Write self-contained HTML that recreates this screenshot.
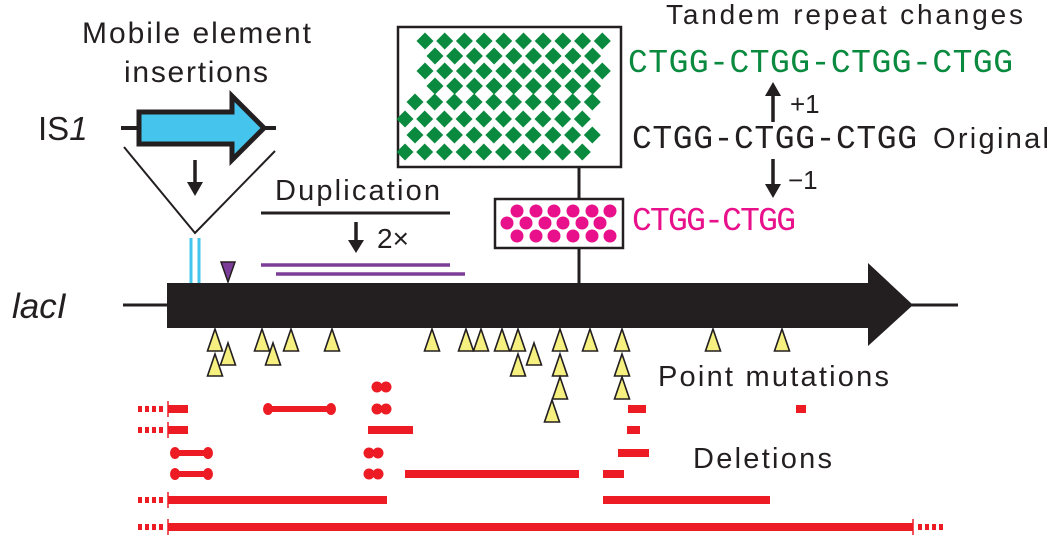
<!DOCTYPE html>
<html><head><meta charset="utf-8"><style>
html,body{margin:0;padding:0;background:#fff;width:1050px;height:536px;overflow:hidden}
text{font-family:"Liberation Sans",sans-serif;fill:#231f20}
.m{font-family:"Liberation Mono",monospace;font-size:33px}
</style></head><body>
<svg width="1050" height="536" viewBox="0 0 1050 536" xmlns="http://www.w3.org/2000/svg">
<defs>
<marker id="ah" markerWidth="4" markerHeight="4" refX="2" refY="2" orient="auto" markerUnits="strokeWidth"><path d="M0,0 L4,2 L0,4 z" fill="#231f20"/></marker>
</defs>
<!-- text top-left -->
<text x="82" y="43" font-size="30" textLength="229">Mobile element</text>
<text x="124" y="82" font-size="30" textLength="144">insertions</text>
<text x="38" y="140" font-size="33">IS<tspan font-style="italic">1</tspan></text>
<!-- IS1 element -->
<line x1="121" y1="128" x2="276" y2="128" stroke="#231f20" stroke-width="4"/>
<path d="M139,112 L232,112 L232,96 L264,128 L232,160 L232,144 L139,144 Z" fill="#45c4ee" stroke="#231f20" stroke-width="5" stroke-linejoin="miter"/>
<polyline points="124,147 195,233 275,151" fill="none" stroke="#231f20" stroke-width="2"/>
<line x1="195" y1="160" x2="195" y2="185" stroke="#231f20" stroke-width="3.5"/>
<path d="M187,182 L203,182 L195,196 Z" fill="#231f20"/>
<line x1="191" y1="238" x2="191" y2="283" stroke="#45c4ee" stroke-width="3"/>
<line x1="199" y1="238" x2="199" y2="283" stroke="#45c4ee" stroke-width="3"/>
<path d="M221,262 L235,262 L228,282 Z" fill="#7b3d97" stroke="#231f20" stroke-width="1.5"/>
<!-- duplication -->
<text x="275" y="200" font-size="29" textLength="165">Duplication</text>
<line x1="261" y1="213" x2="450" y2="213" stroke="#231f20" stroke-width="3"/>
<line x1="356" y1="222" x2="356" y2="242" stroke="#231f20" stroke-width="3.5"/>
<path d="M348,240 L364,240 L356,253 Z" fill="#231f20"/>
<text x="377" y="248" font-size="28">2×</text>
<line x1="261" y1="265" x2="450" y2="265" stroke="#7b3d97" stroke-width="3.5"/>
<line x1="276" y1="274" x2="465" y2="274" stroke="#7b3d97" stroke-width="3.5"/>
<!-- lacI -->
<text x="12" y="318" font-size="35" font-style="italic">lacI</text>
<line x1="123" y1="305" x2="958" y2="305" stroke="#231f20" stroke-width="3"/>
<path d="M167,283 L868,283 L868,263 L913,305 L868,346 L868,328 L167,328 Z" fill="#231f20"/>
<!-- boxes -->
<line x1="579" y1="167" x2="579" y2="284" stroke="#231f20" stroke-width="3"/>
<rect x="398" y="27" width="223" height="140" fill="#fff" stroke="#231f20" stroke-width="2.5"/>
<g fill="#0a8a3e" id="dia"></g>
<rect x="495" y="199" width="128" height="49" fill="#fff" stroke="#231f20" stroke-width="2.5"/>
<g fill="#e8118b">
<circle cx="517" cy="211" r="6.5"/><circle cx="536" cy="211" r="6.5"/><circle cx="554" cy="211" r="6.5"/><circle cx="573" cy="211" r="6.5"/><circle cx="592" cy="211" r="6.5"/><circle cx="610" cy="211" r="6.5"/>
<circle cx="507" cy="223" r="6.5"/><circle cx="526" cy="223" r="6.5"/><circle cx="545" cy="223" r="6.5"/><circle cx="563" cy="223" r="6.5"/><circle cx="582" cy="223" r="6.5"/><circle cx="600" cy="223" r="6.5"/>
<circle cx="517" cy="236" r="6.5"/><circle cx="536" cy="236" r="6.5"/><circle cx="554" cy="236" r="6.5"/><circle cx="573" cy="236" r="6.5"/><circle cx="592" cy="236" r="6.5"/><circle cx="610" cy="236" r="6.5"/>
</g>
<!-- tandem repeat text -->
<text x="666" y="24" font-size="28" textLength="357">Tandem repeat changes</text>
<text x="628" y="72" class="m" fill="#0a8a3e" style="fill:#0a8a3e" textLength="385">CTGG-CTGG-CTGG-CTGG</text>
<text x="632" y="148" class="m" textLength="285">CTGG-CTGG-CTGG</text>
<text x="933" y="148" font-size="29" textLength="116">Original</text>
<text x="632" y="230" class="m" style="fill:#e8118b" textLength="164">CTGG-CTGG</text>
<line x1="773" y1="122" x2="773" y2="94" stroke="#231f20" stroke-width="3.5"/>
<path d="M765,96 L781,96 L773,82 Z" fill="#231f20"/>
<text x="790" y="113" font-size="26">+1</text>
<line x1="773" y1="159" x2="773" y2="186" stroke="#231f20" stroke-width="3.5"/>
<path d="M765,184 L781,184 L773,198 Z" fill="#231f20"/>
<text x="788" y="189" font-size="26">−1</text>
<!-- triangles -->
<g fill="#f6f081" stroke="#231f20" stroke-width="1.6" id="tri"></g>
<text x="658" y="386" font-size="29" textLength="231">Point mutations</text>
<text x="693" y="468" font-size="29" textLength="139">Deletions</text>
<!-- deletions -->
<g fill="#ed1c24" stroke="none">
<!-- row1 409 -->
<rect x="168" y="405" width="20" height="8"/>
<rect x="268" y="406" width="63" height="6"/><ellipse cx="268" cy="409" rx="5" ry="6"/><ellipse cx="331" cy="409" rx="5" ry="6"/>
<circle cx="377" cy="387" r="5.5"/><circle cx="386" cy="387" r="5.5"/>
<circle cx="377" cy="409" r="5.5"/><circle cx="386" cy="409" r="5.5"/>
<rect x="628" y="405" width="18" height="8"/>
<rect x="796" y="405" width="10" height="8"/>
<!-- row2 430 -->
<rect x="168" y="426" width="20" height="8"/>
<rect x="368" y="426" width="45" height="8"/>
<rect x="627" y="426" width="13" height="8"/>
<!-- row3 453 -->
<rect x="175" y="450" width="34" height="6"/><ellipse cx="175" cy="453" rx="5" ry="6"/><ellipse cx="208" cy="453" rx="5" ry="6"/>
<circle cx="369" cy="453" r="5.5"/><circle cx="378" cy="453" r="5.5"/>
<rect x="618" y="449" width="31" height="8"/>
<!-- row4 474 -->
<rect x="175" y="471" width="34" height="6"/><ellipse cx="175" cy="474" rx="5" ry="6"/><ellipse cx="208" cy="474" rx="5" ry="6"/>
<circle cx="369" cy="474" r="5.5"/><circle cx="378" cy="474" r="5.5"/>
<rect x="405" y="470" width="174" height="8"/>
<rect x="603" y="470" width="21" height="8"/>
<!-- row5 500 -->
<rect x="168" y="496" width="219" height="8"/>
<rect x="603" y="496" width="167" height="8"/>
<!-- row6 527 -->
<rect x="168" y="523" width="745" height="8"/>
</g>
<g stroke="#ed1c24">
<line x1="138" y1="409" x2="164" y2="409" stroke-width="6" stroke-dasharray="4,3"/>
<line x1="168" y1="401" x2="168" y2="417" stroke-width="1.5"/>
<line x1="138" y1="430" x2="164" y2="430" stroke-width="6" stroke-dasharray="4,3"/>
<line x1="168" y1="422" x2="168" y2="438" stroke-width="1.5"/>
<line x1="138" y1="500" x2="164" y2="500" stroke-width="6" stroke-dasharray="4,3"/>
<line x1="168" y1="492" x2="168" y2="508" stroke-width="1.5"/>
<line x1="138" y1="527" x2="164" y2="527" stroke-width="6" stroke-dasharray="4,3"/>
<line x1="168" y1="519" x2="168" y2="535" stroke-width="1.5"/>
<line x1="913" y1="519" x2="913" y2="535" stroke-width="1.5"/>
<line x1="918" y1="527" x2="945" y2="527" stroke-width="6" stroke-dasharray="4,3"/>
</g>
</svg>
<script>
(function(){
var ns="http://www.w3.org/2000/svg";
var d=document.getElementById("dia");
var rows=[[41,425],[56,435],[71,425],[86,435],[102,415],[119,405],[135,415],[152,405]];
rows.forEach(function(r){
  for(var i=0;i<10;i++){
    var cx=r[1]+i*19.7, cy=r[0];
    if(cx>612)break;
    var p=document.createElementNS(ns,"path");
    p.setAttribute("d","M"+cx+","+(cy-8.5)+" L"+(cx+8.5)+","+cy+" L"+cx+","+(cy+8.5)+" L"+(cx-8.5)+","+cy+" Z");
    d.appendChild(p);
  }
});
var t=document.getElementById("tri");
var tr=[[215,329],[262,329],[291,329],[332,329],[432,329],[466,329],[481,329],[502,329],[518,329],[560,329],[590,329],[622,329],[713,329],[782,329],
[228,343],[273,343],[534,343],[215,354],[518,354],[560,354],[622,354],[560,377],[622,377],[552,400]];
tr.forEach(function(a){
  var x=a[0],y=a[1];
  var p=document.createElementNS(ns,"path");
  p.setAttribute("d","M"+x+","+y+" L"+(x+7.5)+","+(y+22)+" L"+(x-7.5)+","+(y+22)+" Z");
  t.appendChild(p);
});
})();
</script>
</body></html>
